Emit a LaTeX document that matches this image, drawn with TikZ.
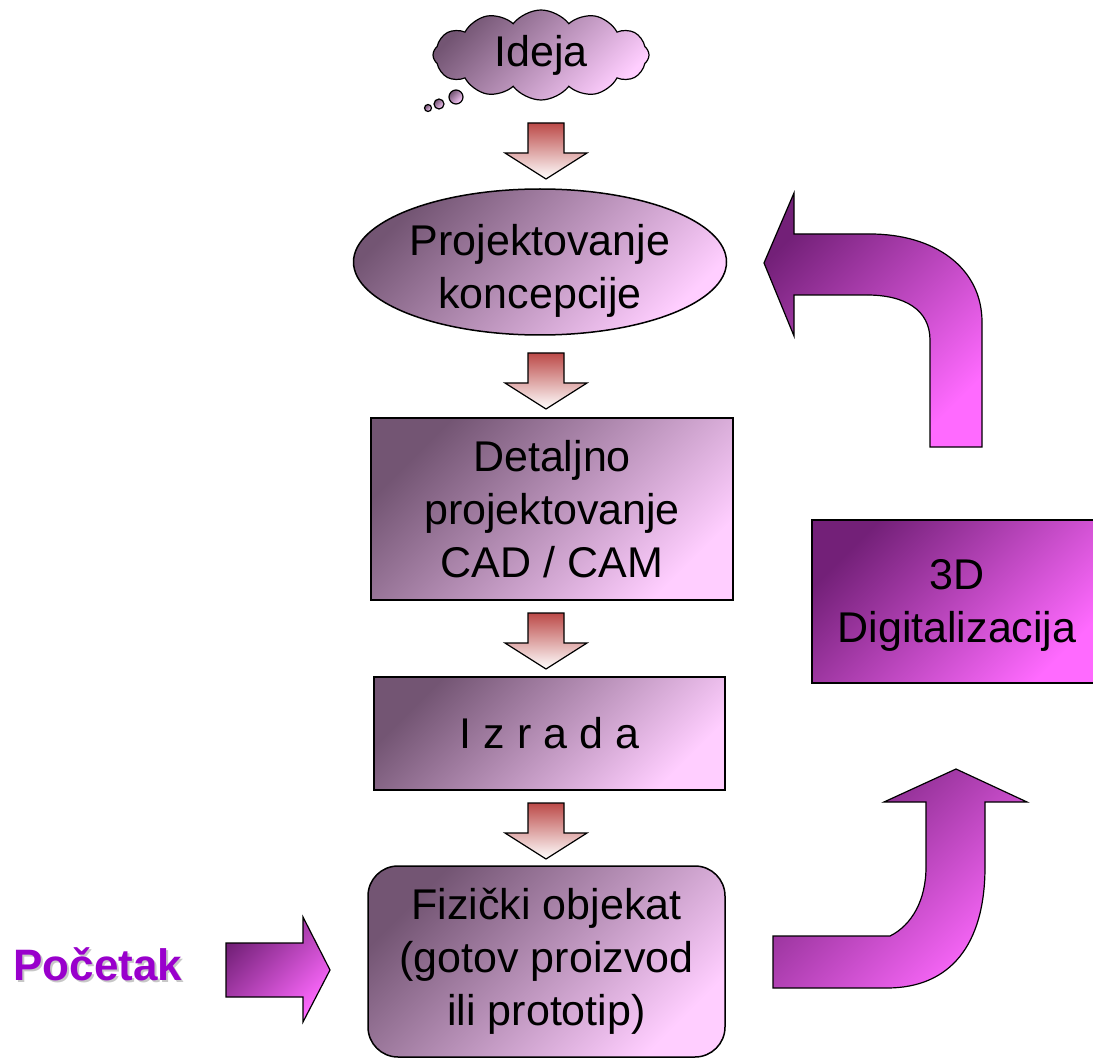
\documentclass[tikz,border=0pt]{standalone}
\usepackage{fontspec}
\setmainfont{Liberation Sans}
\usetikzlibrary{shapes.geometric,shapes.symbols}

\definecolor{boxdark}{HTML}{735573}
\definecolor{boxlight}{HTML}{FFCEFF}
\definecolor{digdark}{HTML}{732078}
\definecolor{diglight}{HTML}{FF6AFF}
\definecolor{arrred}{HTML}{BC4A48}
\definecolor{startviolet}{HTML}{9900CC}

\begin{document}
\begin{tikzpicture}[x=1pt,y=-1pt,
	every node/.style={font=\fontsize{43}{53}\selectfont,align=center,inner sep=0pt},
	stagebox/.style={draw,line width=1.5pt,top color=boxdark,bottom color=boxlight,shading angle=45},
	digibox/.style={draw,line width=1.5pt,top color=digdark,bottom color=diglight,shading angle=45},
	flowarrow/.style={draw,line width=1.2pt,top color=arrred,bottom color=white},
	pics/downarr/.style={code={
		\path[flowarrow] (-18,0) -- (18,0) -- (18,30) -- (41,30) -- (0,56) -- (-41,30) -- (-18,30) -- cycle;}}
]
\useasboundingbox (0,0) rectangle (1093,1059);

% main flow
\node[cloud,cloud puffs=12,cloud puff arc=105,aspect=2.4,stagebox,line width=1.2pt,
	minimum width=216pt,minimum height=90pt] (ideja) at (541,55) {Ideja};
\node[circle,stagebox,line width=1.2pt,minimum size=14pt] (puffa) at (456,97) {};
\node[circle,stagebox,line width=1.2pt,minimum size=10pt] (puffb) at (439,104) {};
\node[circle,stagebox,line width=1.2pt,minimum size=7pt] (puffc) at (428,108) {};

\node[ellipse,stagebox,minimum width=373pt,minimum height=146pt] (koncept) at (540,262) {};
\node[yshift=-9pt] (koncepttxt) at (koncept.center) {Projektovanje\\koncepcije};
\node[rectangle,stagebox,minimum width=362pt,minimum height=182pt] (detalj) at (552,509) {Detaljno\\projektovanje\\CAD / CAM};
\node[rectangle,stagebox,minimum width=351pt,minimum height=113pt] (izrada) at (549.5,733.5) {I z r a d a};
\node[rectangle,rounded corners=30pt,stagebox,minimum width=357pt,minimum height=191pt] (objekat) at (546.5,961.5) {Fizički objekat\\(gotov proizvod\\ili prototip)};
\node[rectangle,digibox,minimum width=288pt,minimum height=163pt] (digital) at (956,601.5) {};
\node[yshift=-4pt] (digitaltxt) at (957,601.5) {3D\\Digitalizacija};

\pic (stepa) at (546,123) {downarr};
\pic (stepb) at (546,353) {downarr};
\pic (stepc) at (546,613) {downarr};
\pic (stepd) at (546,803) {downarr};

% start
\node[text=black!22,font=\bfseries\fontsize{44}{53}\selectfont,anchor=base] (pocsenka) at (100,982) {Početak};
\node[text=startviolet,font=\bfseries\fontsize{44}{53}\selectfont,anchor=base] (pocetak) at (98,980) {Početak};
\path[digibox,line width=1.2pt] (226,943) -- (303,943) -- (303,917) -- (330,970) -- (303,1022) -- (303,997) -- (226,997) -- cycle;

% loop back
\path[digibox,line width=1.2pt] (773,936) -- (890,936) .. controls (912,925) and (926,900) .. (926,867)
	-- (926,802) -- (884,802) -- (956,769) -- (1027,802) -- (985,802) -- (985,867)
	.. controls (985,945) and (950,988) .. (887,988) -- (773,988) -- cycle;
\path[digibox,line width=1.2pt] (982,447) -- (982,322) .. controls (982,268) and (935,234) .. (870,234)
	-- (794,234) -- (794,193) -- (764,263) -- (794,336) -- (794,295) -- (867,295)
	.. controls (905,295) and (930,310) .. (930,340) -- (930,447) -- cycle;
\end{tikzpicture}
\end{document}
